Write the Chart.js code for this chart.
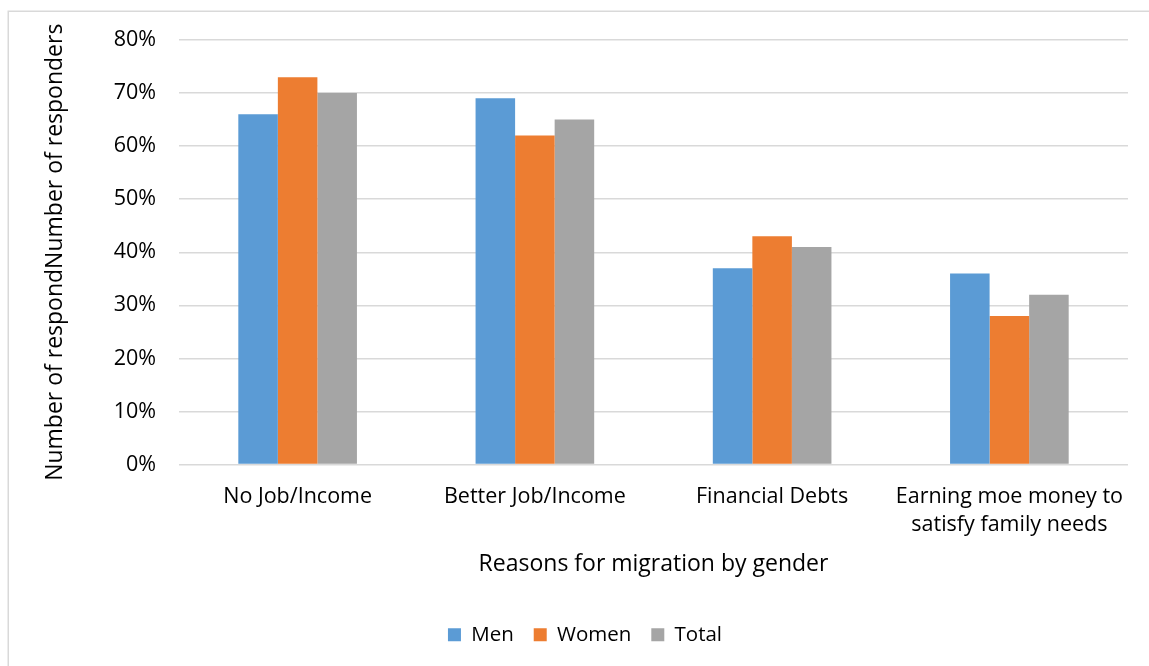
<!DOCTYPE html>
<html>
<head>
<meta charset="utf-8">
<script src="https://cdn.jsdelivr.net/npm/chart.js@4.4.1/dist/chart.umd.min.js"></script>
<style>
  html, body { margin: 0; padding: 0; background: #ffffff; }
  #c { display: block; }
</style>
</head>
<body>
<canvas id="c" width="1149" height="666"></canvas>
<script>
// Reasons for migration, share of respondents (%) by gender
const categories = [
  'No Job/Income',
  'Better Job/Income',
  'Financial Debts',
  ['Earning moe money to', 'satisfy family needs']
];
const men   = [66, 69, 37, 36];
const women = [73, 62, 43, 28];
const total = [70, 65, 41, 32];

const seriesNames = ['Men', 'Women', 'Total'];
const yMin = 0, yMax = 80, yStep = 10;

const FONT = "'Open Sans', 'DejaVu Sans', sans-serif";

// Thin grey frame around the chart object
const framePlugin = {
  id: 'frame',
  beforeDraw(chart) {
    const ctx = chart.ctx;
    ctx.save();
    ctx.fillStyle = '#ffffff';
    ctx.fillRect(0, 0, chart.width, chart.height);
    ctx.strokeStyle = '#d9d9d9';
    ctx.lineWidth = 1.5;
    ctx.strokeRect(8.25, 11.25, chart.width + 20, chart.height + 20);
    ctx.restore();
  }
};

new Chart(document.getElementById('c'), {
  type: 'bar',
  data: {
    labels: categories,
    datasets: [
      { label: seriesNames[0], data: men,   backgroundColor: '#5b9bd5' },
      { label: seriesNames[1], data: women, backgroundColor: '#ed7d31' },
      { label: seriesNames[2], data: total, backgroundColor: '#a5a5a5' }
    ]
  },
  options: {
    responsive: false,
    animation: false,
    datasets: { bar: { categoryPercentage: 0.5, barPercentage: 1.0 } },
    layout: { padding: { left: 42, right: 21, top: 40, bottom: 11 } },
    plugins: {
      tooltip: { enabled: false },
      legend: {
        position: 'bottom',
        labels: {
          font: { family: FONT, size: 20.5 },
          color: '#000000',
          boxWidth: 13,
          boxHeight: 13,
          padding: 20
        }
      }
    },
    scales: {
      x: {
        grid: { display: false, drawTicks: false },
        border: { display: false },
        ticks: {
          font: { family: FONT, size: 21.5, lineHeight: 1.3 },
          color: '#000000',
          padding: 18,
          maxRotation: 0,
          autoSkip: false
        },
        title: {
          display: true,
          text: 'Reasons for migration by gender',
          font: { family: FONT, size: 23 },
          color: '#000000',
          padding: { top: 0, bottom: 26 }
        },
        afterFit(scale) { scale.height = 140; }
      },
      y: {
        min: yMin,
        max: yMax,
        grid: { color: '#d9d9d9', lineWidth: 1.5, drawTicks: false },
        border: { display: false },
        ticks: {
          stepSize: yStep,
          font: { family: FONT, size: 21.5 },
          color: '#000000',
          padding: 23,
          callback: v => v + '%'
        },
        title: {
          display: true,
          text: 'Number of respondNumber of responders',
          font: { family: FONT, size: 23 },
          color: '#000000',
          padding: { top: 0, bottom: 0 }
        },
        afterFit(scale) { scale.width = 137; }
      }
    }
  },
  plugins: [framePlugin]
});
</script>
</body>
</html>
